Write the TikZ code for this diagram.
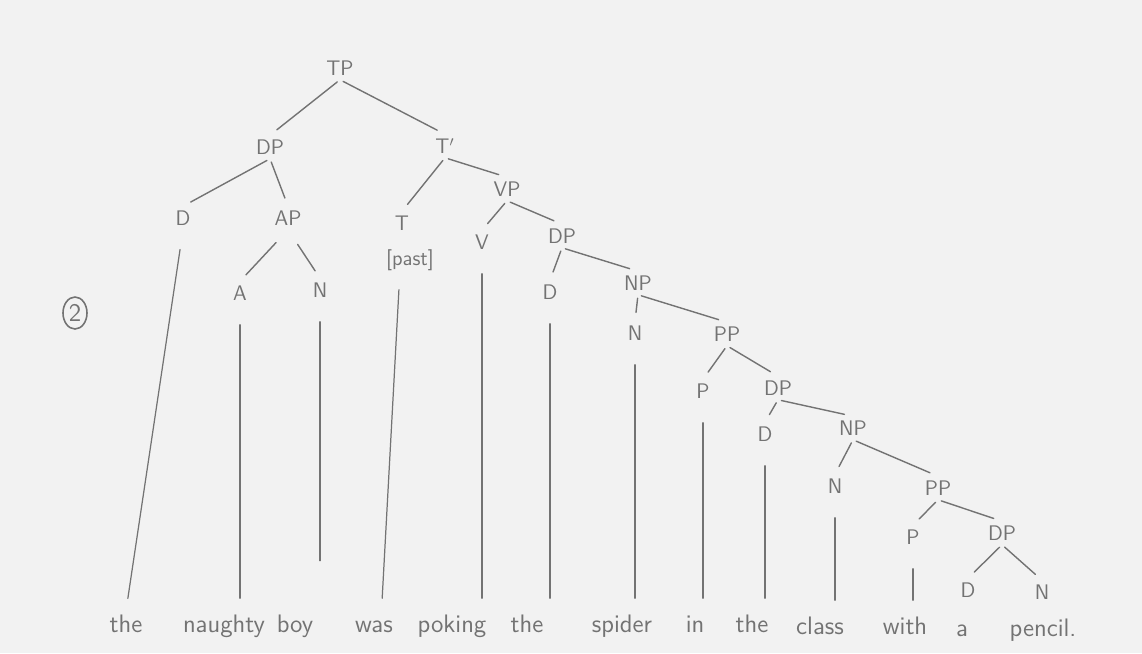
\documentclass[tikz,border=0pt]{standalone}
\usepackage{amsmath}
\usetikzlibrary{calc, positioning}
\usetikzlibrary{shapes.geometric}

\colorlet{pencil}{black!55}
\colorlet{paper}{black!5}

\tikzset{
  lbl/.style={font=\sffamily\large, text=pencil, inner sep=2pt, text height=9pt, text depth=0pt},
  word/.style={font=\sffamily\Large, text=pencil, inner sep=2pt, text height=10pt, text depth=3pt},
  branch/.style={draw=pencil, line width=0.8pt, line cap=round, shorten <=2pt, shorten >=5pt},
  stem/.style={draw=pencil, line width=0.7pt, line cap=round, shorten <=0.4cm, shorten >=0.25cm},
}

\begin{document}
\begin{tikzpicture}[x=0.02cm, y=-0.02cm]
\fill[paper] (0,0) rectangle (1142,653);
\useasboundingbox (0,0) rectangle (1142,653);

\node[draw=pencil, ellipse, line width=0.9pt, minimum width=0.48cm, minimum height=0.64cm,
  inner sep=0pt, font=\sffamily\Large, text=pencil] (num) at (75,313) {2};

\node[lbl] (tp) at (340,68) {TP};
\node[lbl] (dpa) at (270,147) {DP};
\node[lbl] (tbar) at (445,146) {T$'$};
\node[lbl] (d1) at (183,218) {D};
\node[lbl] (ap) at (288,218) {AP};
\node[lbl] (t) at (402,223) {T};
\node[lbl] (past) at (410,258) {[past]};
\node[lbl] (vp) at (507,189) {VP};
\node[lbl] (v) at (482,242) {V};
\node[lbl] (dpb) at (562,236) {DP};
\node[lbl] (a) at (240,293) {A};
\node[lbl] (n1) at (320,290) {N};
\node[lbl] (d2) at (550,292) {D};
\node[lbl] (npa) at (638,283) {NP};
\node[lbl] (n2) at (635,333) {N};
\node[lbl] (ppa) at (727,334) {PP};
\node[lbl] (p1) at (703,391) {P};
\node[lbl] (dpc) at (778,388) {DP};
\node[lbl] (d3) at (765,434) {D};
\node[lbl] (npb) at (853,428) {NP};
\node[lbl] (n3) at (835,486) {N};
\node[lbl] (ppb) at (938,488) {PP};
\node[lbl] (p2) at (913,537) {P};
\node[lbl] (dpd) at (1002,533) {DP};
\node[lbl] (d4) at (968,590) {D};
\node[lbl] (n4) at (1042,592) {N};

\node[word] (w1) at (126,626) {the};
\node[word] (w2) at (224,626) {naughty};
\node[word] (w3) at (295,626) {boy};
\node[word] (w4) at (374,626) {was};
\node[word] (w5) at (452,626) {poking};
\node[word] (w6) at (527,626) {the};
\node[word] (w7) at (622,626) {spider};
\node[word] (w8) at (695,626) {in};
\node[word] (w9) at (752,626) {the};
\node[word] (w10) at (820,628) {class};
\node[word] (w11) at (905,628) {with};
\node[word] (w12) at (962,630) {a};
\node[word] (w13) at (1043,630) {pencil.};

\foreach \p/\c in {tp/dpa, tp/tbar, dpa/d1, dpa/ap, tbar/t, tbar/vp,
  vp/v, vp/dpb, dpb/d2, dpb/npa, npa/n2, npa/ppa, ppa/p1, ppa/dpc, dpc/d3, dpc/npb,
  npb/n3, npb/ppb, ppb/p2, ppb/dpd, dpd/d4, dpd/n4} {
  \draw[branch] (\p.south) -- (\c.north);
}
\draw[branch, shorten <=0.35cm] (ap.south) -- (a.north);
\draw[branch, shorten <=0.35cm] (ap.south) -- (n1.north);

\draw[stem] (d1.south) -- (w1.north);
\draw[stem] ([xshift=-0.2cm]past.south) -- ([xshift=0.15cm]w4.north);
\foreach \c/\w in {a/w2, v/w5, d2/w6, n2/w7, p1/w8, d3/w9, n3/w10, p2/w11} {
  \draw[stem] (\c) -- (\c |- \w.north);
}
\draw[stem, shorten >=1cm] (n1) -- (n1 |- w3.north);
\end{tikzpicture}
\end{document}
